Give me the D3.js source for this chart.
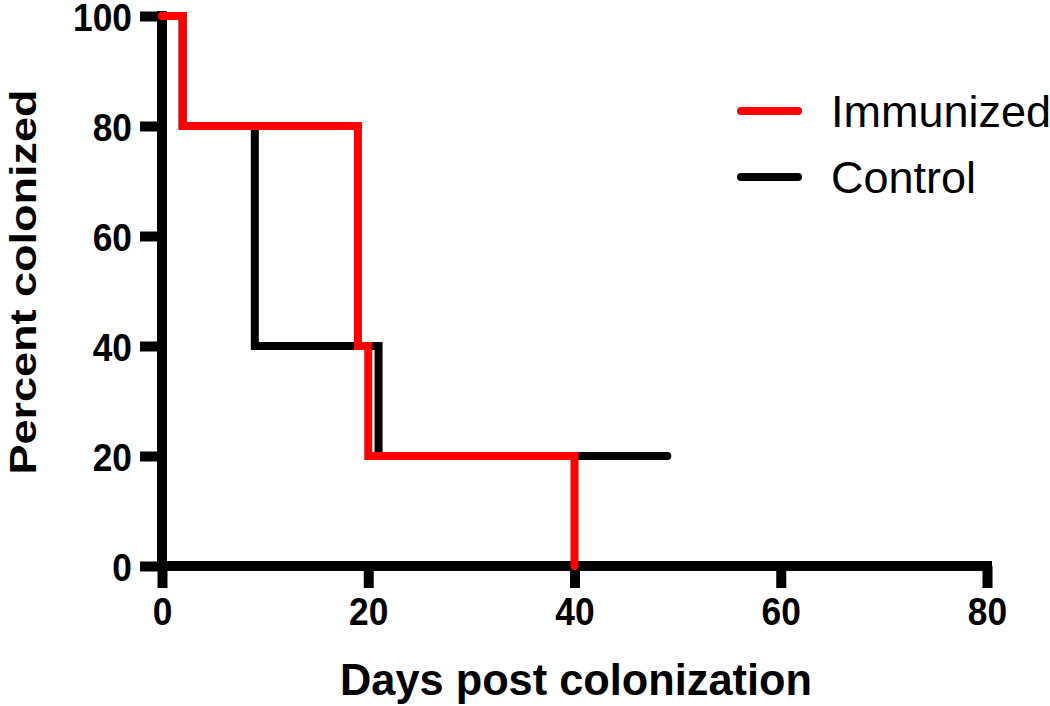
<!DOCTYPE html>
<html><head><meta charset="utf-8">
<script src="https://cdn.jsdelivr.net/npm/d3@7"></script>
<style>body{margin:0;background:#fff}svg{display:block}</style>
</head><body>
<svg id="c" width="1050" height="706"></svg>
<script>
const seriesNames = ["Immunized", "Control"];
const seriesColors = ["#ff0000", "#000000"];
// Kaplan-Meier step points [day, percent]
const immunizedDays = [0, 2, 19, 20, 40];
const immunizedPct  = [100, 80, 40, 20, 0];
const controlDays = [0, 2, 9, 21, 49];
const controlPct  = [100, 80, 40, 20, 20];
const xTicks = [0, 20, 40, 60, 80];
const yTicks = [0, 20, 40, 60, 80, 100];

const svg = d3.select("#c");
const x = d3.scaleLinear().domain([0, 80]).range([162, 987]);
const y = d3.scaleLinear().domain([0, 100]).range([566, 16]);

const font = "Arial, 'Liberation Sans', sans-serif";

// axes
const gx = svg.append("g").attr("transform", "translate(0,566)")
  .call(d3.axisBottom(x).tickValues(xTicks).tickSize(22).tickFormat(d3.format("d")));
const gy = svg.append("g").attr("transform", "translate(162,0)")
  .call(d3.axisLeft(y).tickValues(yTicks).tickSize(22).tickFormat(d3.format("d")));
[gx, gy].forEach(g => {
  g.select(".domain").attr("stroke", "#000").attr("stroke-width", 10);
  g.selectAll(".tick line").attr("stroke", "#000").attr("stroke-width", 10);
  g.selectAll(".tick text").attr("fill", "#000").style("font-family", font)
    .style("font-weight", "bold").style("font-size", "38px");
});
gx.select(".domain").attr("d", `M${x(0)-5},0H${x(80)+5}`);
gy.select(".domain").attr("d", `M0,${y(100)-5}V${y(0)+5}`);
gx.selectAll(".tick text").attr("y", 0).attr("dy", null)
  .attr("transform", "translate(0,59) scale(0.93,1)");
gy.selectAll(".tick text").attr("x", 0).attr("dy", null)
  .attr("transform", "translate(-30,14) scale(0.93,1)");

// step lines
function stepData(days, pct) { return days.map((d, i) => [d, pct[i]]); }
const line = d3.line().x(d => x(d[0])).y(d => y(d[1])).curve(d3.curveStepAfter);
const data = [stepData(controlDays, controlPct), stepData(immunizedDays, immunizedPct)];
const colors = [seriesColors[1], seriesColors[0]];
data.forEach((dd, i) => {
  svg.append("path").attr("d", line(dd)).attr("fill", "none")
    .attr("stroke", colors[i]).attr("stroke-width", 8)
    .attr("stroke-linecap", "round").attr("stroke-linejoin", "miter");
});

// legend
seriesNames.forEach((name, i) => {
  const yy = 111 + i * 66;
  svg.append("line").attr("x1", 741).attr("x2", 798).attr("y1", yy).attr("y2", yy)
    .attr("stroke", seriesColors[i]).attr("stroke-width", 8).attr("stroke-linecap", "round");
  svg.append("text").attr("x", 831).attr("y", yy + 16).text(name)
    .style("font-family", font).style("font-size", "45px").attr("fill", "#000");
});

// axis titles
svg.append("text").attr("x", 576).attr("y", 695).attr("text-anchor", "middle")
  .attr("textLength", 472).attr("lengthAdjust", "spacingAndGlyphs")
  .text("Days post colonization").style("font-family", font)
  .style("font-weight", "bold").style("font-size", "45px");
svg.append("text").attr("transform", "translate(36,282) rotate(-90) scale(1,0.8)")
  .attr("text-anchor", "middle")
  .attr("textLength", 385).attr("lengthAdjust", "spacingAndGlyphs")
  .text("Percent colonized").style("font-family", font)
  .style("font-weight", "bold").style("font-size", "45px");
</script>
</body></html>
